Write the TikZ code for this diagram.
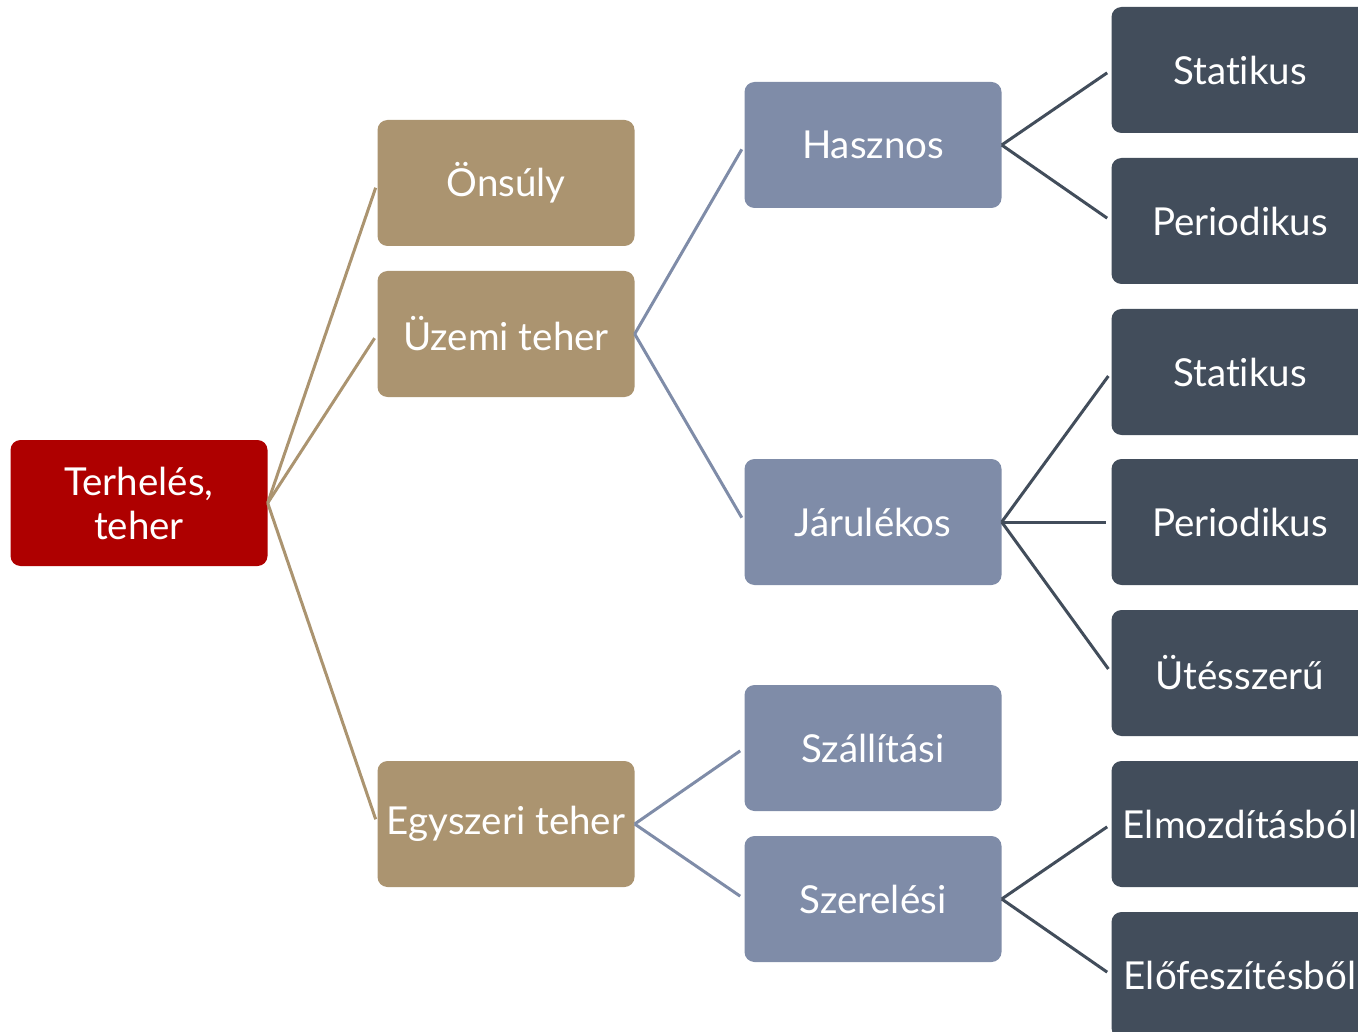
\documentclass[tikz,border=0pt]{standalone}
\usepackage{fontspec}
\setmainfont{Lato}[Ligatures=NoCommon]
\definecolor{rootred}{HTML}{AE0000}
\definecolor{loadtan}{HTML}{AB9470}
\definecolor{loadblue}{HTML}{7F8CA8}
\definecolor{loaddark}{HTML}{424D5B}

\begin{document}
\begin{tikzpicture}[x=1pt,y=-1pt,
    box/.style={rounded corners=10pt,minimum width=257pt,minimum height=126pt,
        inner sep=0pt,text=white,align=center,font=\fontsize{38.5}{44}\selectfont},
    rootbox/.style={box,fill=rootred},
    onebox/.style={box,fill=loadtan},
    twobox/.style={box,fill=loadblue},
    threebox/.style={box,fill=loaddark},
    link/.style={line width=3pt,shorten >=5pt}]
    \useasboundingbox (0,0) rectangle (1358,1032);
    \clip (0,0) rectangle (1358,1032);

    \node[rootbox] (root) at (139,503) {Terhelés,\\teher};

    \node[onebox] (onsuly) at (506,183) {Önsúly};
    \node[onebox] (uzemi) at (506,334) {Üzemi teher};
    \node[onebox] (egyszeri) at (506,824) {Egyszeri teher};

    \node[twobox] (hasznos) at (873,145) {Hasznos};
    \node[twobox] (jarulekos) at (873,522) {Járulékos};
    \node[twobox] (szallitasi) at (873,748) {Szállítási};
    \node[twobox] (szerelesi) at (873,899) {Szerelési};

    \node[threebox] (statikusa) at (1240,70) {Statikus};
    \node[threebox] (periodikusa) at (1240,221) {Periodikus};
    \node[threebox] (statikusb) at (1240,372) {Statikus};
    \node[threebox] (periodikusb) at (1240,522) {Periodikus};
    \node[threebox] (utesszeru) at (1240,673) {Ütésszerű};
    \node[threebox] (elmozditas) at (1240,824) {Elmozdításból};
    \node[threebox] (elofeszites) at (1240,975) {Előfeszítésből};

    % root -> first level
    \draw[link,loadtan](root.east)--(onsuly.west);
    \draw[link,loadtan](root.east)--(uzemi.west);
    \draw[link,loadtan](root.east)--(egyszeri.west);

    % first level -> second level
    \draw[link,loadblue](uzemi.east)--(hasznos.west);
    \draw[link,loadblue](uzemi.east)--(jarulekos.west);
    \draw[link,loadblue](egyszeri.east)--(szallitasi.west);
    \draw[link,loadblue](egyszeri.east)--(szerelesi.west);

    % second level -> third level
    \draw[link,loaddark](hasznos.east)--(statikusa.west);
    \draw[link,loaddark](hasznos.east)--(periodikusa.west);
    \draw[link,loaddark](jarulekos.east)--(statikusb.west);
    \draw[link,loaddark](jarulekos.east)--(periodikusb.west);
    \draw[link,loaddark](jarulekos.east)--(utesszeru.west);
    \draw[link,loaddark](szerelesi.east)--(elmozditas.west);
    \draw[link,loaddark](szerelesi.east)--(elofeszites.west);
\end{tikzpicture}
\end{document}
